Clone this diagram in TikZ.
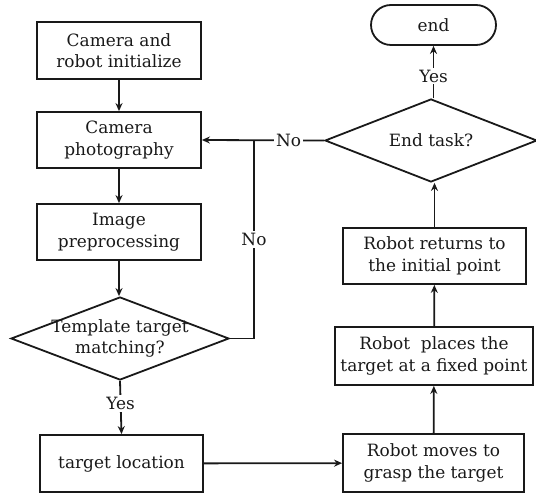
\documentclass[tikz,border=0pt]{standalone}
\usepackage{fontspec}
\setmainfont{DejaVu Serif}
\usetikzlibrary{shapes.geometric,arrows.meta}
\tikzset{
  every node/.style={font=\fontsize{17}{21.5}\selectfont, align=center, text=black!90},
  box/.style={draw=black!90, line width=1.8bp, inner sep=0pt},
  dia/.style={draw=black!90, shape=diamond, line width=1.8bp, inner sep=0pt, minimum width=218bp, minimum height=83bp},
  conn/.style={draw=black!90, line width=1.8bp, -{Stealth[length=8bp,width=7bp]}},
  plain/.style={draw=black!90, line width=1.8bp},
  lbl/.style={fill=white, inner sep=2pt}
}
\begin{document}
\begin{tikzpicture}[x=1bp,y=-1bp]
\useasboundingbox (0,0) rectangle (536,495);
\node[box, minimum width=164bp, minimum height=57bp] (n1) at (119,50.5) {Camera and\\robot initialize};
\node[box, minimum width=164bp, minimum height=56bp] (n2) at (119,140) {Camera\\photography};
\node[box, minimum width=164bp, minimum height=56bp] (n3) at (119,232) {Image\\preprocessing};
\node[dia] (d1) at (120,338.5) {};
\node (t1) at (d1.center) {Template target\\matching?};
\node[box, minimum width=163bp, minimum height=57bp] (n4) at (121.5,463.5) {target location};
\node[box, minimum width=181bp, minimum height=58bp] (n5) at (433.5,463) {Robot moves to\\grasp the target};
\node[box, minimum width=198bp, minimum height=58bp] (n6) at (434,356) {Robot\ \ places the\\target at a fixed point};
\node[box, minimum width=183bp, minimum height=56bp] (n7) at (434.5,256) {Robot returns to\\the initial point};
\node[dia, minimum width=212bp] (d2) at (431,140.5) {};
\node (t2) at (d2.center) {End task?};
\node[box, rounded corners=20bp, minimum width=125bp, minimum height=40bp] (e) at (433.5,25) {end};
\coordinate (j1) at (254,338.5);
\coordinate (j2) at (254,140);
\draw[conn] (n1) -- (n2);
\draw[conn] (n2) -- (n3);
\draw[conn] (n3.south) -- (n3.south |- d1.north);
\draw[conn] (d1.south) -- node[lbl, pos=0.42] {Yes} (n4.north);
\draw[plain] (d1.east) -- (j1) -- node[lbl] {No} (j2);
\draw[conn] (d2.west) -- node[lbl, pos=0.29] {No} (n2.east);
\draw[conn] (n4) -- (n5);
\draw[conn] (n5) -- (n6);
\draw[conn] (n6) -- (n7);
\draw[conn] (n7.north) -- (n7.north |- d2.south);
\draw[conn] (d2.north -| e.south) -- node[lbl, pos=0.42] {Yes} (e.south);
\end{tikzpicture}
\end{document}
